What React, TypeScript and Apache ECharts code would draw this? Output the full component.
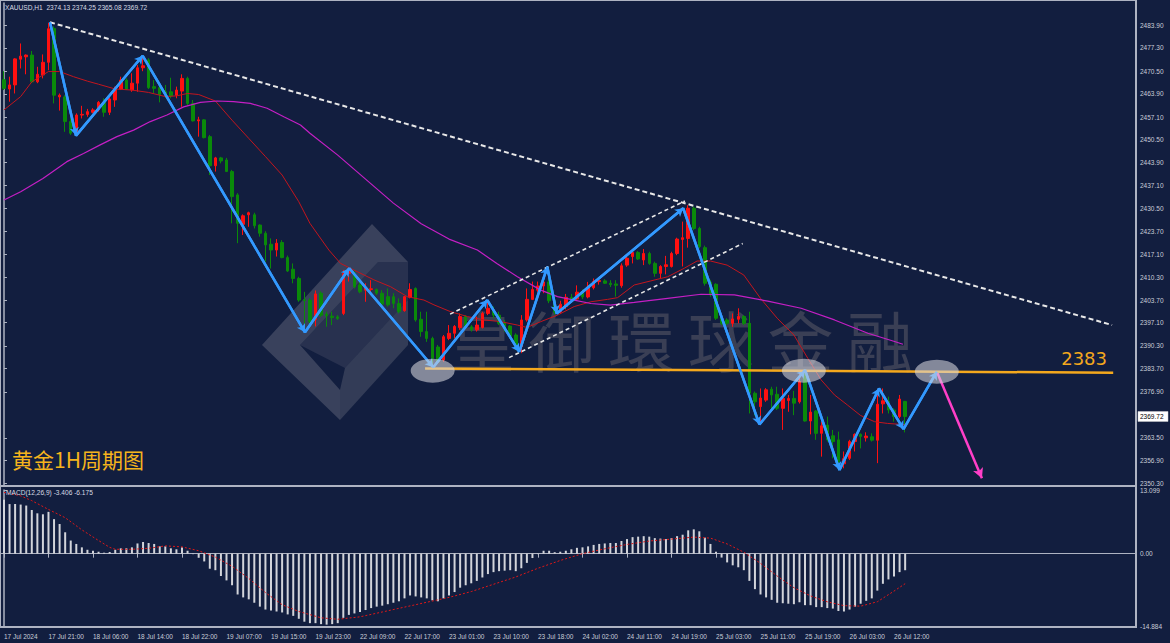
import React, { useEffect, useRef } from 'react';
import * as echarts from 'echarts';

const timeLabels = ['17 Jul 2024','17 Jul 21:00','18 Jul 06:00','18 Jul 14:00','18 Jul 22:00','19 Jul 07:00','19 Jul 15:00','19 Jul 23:00','22 Jul 09:00','22 Jul 17:00','23 Jul 01:00','23 Jul 10:00','23 Jul 18:00','24 Jul 02:00','24 Jul 11:00','24 Jul 19:00','25 Jul 03:00','25 Jul 11:00','25 Jul 19:00','26 Jul 03:00','26 Jul 12:00'];

const priceTicks = [2483.9,2477.3,2470.5,2463.9,2457.1,2450.5,2443.9,2437.1,2430.5,2423.7,2417.1,2410.3,2403.7,2397.1,2390.3,2383.7,2376.9,2363.5,2356.9,2350.3];
const macdTicks = [13.099, 0, -14.884];

const open = [2468.0,2465.3,2466.5,2474.0,2474.7,2475.2,2467.4,2469.4,2473.1,2483.0,2463.0,2463.0,2455.8,2452.4,2457.7,2457.9,2458.5,2459.2,2461.4,2458.5,2462.1,2465.3,2467.9,2465.0,2467.0,2471.5,2473.8,2466.0,2465.7,2464.5,2464.5,2463.5,2464.7,2468.4,2461.1,2456.0,2456.3,2451.4,2442.9,2445.2,2444.6,2441.2,2434.4,2425.8,2428.6,2428.6,2425.6,2423.2,2420.0,2418.3,2420.5,2416.1,2412.7,2410.0,2403.8,2403.7,2398.0,2405.7,2399.6,2399.0,2398.8,2399.8,2411.5,2411.5,2408.1,2406.6,2406.8,2406.8,2405.7,2404.7,2404.7,2402.7,2400.6,2404.5,2407.1,2398.1,2394.5,2392.5,2390.0,2386.2,2392.5,2394.0,2395.7,2398.9,2395.9,2395.0,2395.7,2399.8,2400.8,2399.3,2396.9,2396.1,2393.5,2390.1,2397.9,2403.9,2406.6,2407.8,2409.0,2403.5,2400.2,2401.8,2404.5,2404.0,2406.0,2404.6,2407.3,2409.1,2409.3,2408.6,2408.4,2407.9,2413.9,2416.4,2417.6,2415.4,2417.3,2414.4,2411.5,2413.5,2413.5,2417.3,2421.4,2421.7,2430.5,2424.6,2419.0,2408.9,2408.3,2398.4,2397.9,2396.9,2398.1,2398.9,2396.9,2376.5,2372.6,2374.5,2377.7,2376.2,2372.1,2374.4,2375.0,2374.0,2381.8,2368.4,2371.3,2364.8,2367.2,2364.1,2362.9,2355.9,2357.5,2362.4,2364.5,2363.5,2363.8,2362.8,2373.4,2374.1,2371.6,2369.7,2374.13];
const high = [2470.5,2468.9,2474.3,2478.6,2475.4,2476.4,2471.8,2475.4,2484.6,2483.6,2464.0,2463.5,2456.7,2458.2,2460.4,2459.5,2459.7,2461.8,2462.6,2462.8,2466.0,2468.9,2468.4,2469.9,2472.3,2474.7,2474.3,2467.9,2466.9,2466.5,2468.6,2466.0,2469.6,2468.9,2462.1,2457.2,2456.5,2451.9,2445.5,2445.5,2445.2,2441.7,2434.9,2428.7,2429.5,2429.2,2425.8,2423.8,2421.7,2421.5,2421.2,2416.7,2414.4,2410.5,2406.1,2404.2,2406.5,2406.2,2400.3,2400.3,2399.3,2412.5,2413.0,2412.5,2409.1,2408.6,2409.5,2407.1,2406.6,2407.1,2405.7,2404.2,2404.9,2408.6,2407.4,2400.3,2400.3,2393.0,2390.6,2393.5,2396.4,2396.4,2399.8,2399.3,2396.4,2398.9,2400.3,2403.7,2401.8,2400.3,2397.9,2396.4,2394.0,2399.3,2407.1,2409.1,2409.1,2410.0,2413.4,2404.2,2403.5,2405.5,2405.5,2408.0,2406.8,2409.0,2410.0,2410.0,2409.8,2409.5,2409.5,2414.4,2416.4,2418.0,2418.0,2418.6,2417.8,2414.9,2413.9,2416.6,2417.8,2421.9,2426.6,2431.4,2431.0,2425.1,2419.6,2409.6,2408.6,2398.9,2398.4,2399.8,2401.3,2399.3,2400.3,2377.0,2377.9,2378.0,2378.4,2378.4,2377.9,2376.0,2377.2,2382.3,2382.8,2376.0,2371.6,2368.2,2369.7,2365.8,2365.3,2359.5,2362.9,2364.8,2364.8,2365.1,2364.8,2376.0,2377.9,2375.5,2372.1,2376.0,2374.25];
const low = [2465.0,2461.6,2464.0,2471.3,2469.6,2467.0,2467.0,2468.4,2470.8,2461.1,2459.0,2452.8,2451.9,2451.7,2456.7,2457.2,2458.2,2458.7,2457.2,2457.7,2460.1,2465.0,2465.0,2464.5,2464.5,2470.5,2465.3,2464.0,2461.4,2462.8,2462.6,2462.6,2460.1,2460.6,2455.8,2451.4,2450.9,2440.2,2441.2,2443.6,2441.2,2426.1,2420.3,2422.7,2425.1,2424.6,2422.2,2414.9,2412.9,2416.4,2415.9,2411.9,2408.6,2403.2,2394.3,2396.5,2396.0,2398.8,2395.9,2396.4,2397.9,2399.3,2409.1,2407.1,2405.7,2403.2,2405.6,2405.2,2401.3,2401.8,2401.3,2399.8,2400.3,2404.2,2397.4,2393.0,2391.5,2384.3,2385.0,2385.7,2392.0,2392.5,2395.0,2395.4,2394.5,2394.5,2395.4,2399.3,2398.4,2396.4,2394.5,2392.5,2389.1,2388.2,2397.4,2403.7,2406.1,2405.7,2402.8,2399.5,2399.8,2401.0,2403.0,2403.5,2404.0,2404.2,2406.8,2408.2,2408.4,2407.5,2404.7,2407.3,2413.4,2414.4,2415.4,2413.9,2414.0,2410.5,2410.0,2411.2,2413.2,2416.8,2413.5,2419.0,2424.1,2418.8,2407.9,2404.7,2397.9,2396.4,2396.4,2395.9,2396.9,2396.4,2370.6,2370.0,2367.3,2374.0,2372.1,2371.6,2365.8,2371.1,2370.1,2373.5,2368.2,2364.5,2362.9,2358.0,2362.4,2357.5,2354.6,2354.6,2357.0,2359.5,2360.4,2362.4,2362.4,2356.1,2370.6,2370.6,2368.2,2369.2,2365.08];
const close = [2465.5,2466.5,2474.1,2474.9,2475.2,2467.4,2469.6,2473.1,2482.9,2463.5,2463.5,2455.8,2452.4,2457.7,2457.9,2458.7,2459.2,2461.4,2458.5,2462.4,2465.3,2467.9,2465.3,2467.0,2471.5,2472.1,2465.7,2465.5,2463.7,2464.0,2463.3,2465.0,2468.4,2461.1,2456.0,2456.3,2451.1,2442.9,2445.2,2444.3,2441.2,2433.9,2426.1,2428.3,2429.2,2425.4,2423.2,2419.8,2418.3,2420.3,2416.1,2412.2,2410.0,2403.7,2403.5,2397.4,2405.5,2399.3,2399.1,2398.6,2398.3,2411.5,2412.0,2407.6,2406.1,2407.4,2407.0,2405.7,2402.5,2402.3,2402.7,2400.3,2404.7,2406.8,2397.9,2394.5,2392.5,2386.7,2385.7,2393.0,2394.0,2396.0,2398.9,2395.9,2395.0,2396.4,2399.8,2401.3,2399.3,2396.9,2395.4,2393.2,2389.6,2397.9,2403.9,2406.8,2407.8,2409.0,2403.5,2400.2,2402.5,2404.5,2404.0,2406.0,2404.6,2407.5,2409.1,2409.4,2408.6,2408.2,2408.0,2413.7,2415.9,2417.6,2415.7,2417.3,2414.4,2411.5,2413.5,2414.0,2417.3,2421.5,2421.9,2430.5,2424.6,2419.3,2408.6,2405.2,2398.4,2396.9,2396.9,2398.2,2398.9,2396.9,2376.5,2374.0,2375.1,2377.5,2376.0,2372.1,2375.0,2375.0,2373.6,2379.9,2368.4,2371.0,2364.8,2367.0,2362.9,2362.4,2356.5,2357.4,2362.4,2364.5,2363.9,2364.0,2362.8,2373.3,2374.3,2371.6,2369.7,2374.8,2369.72];

const macd = [11.1,10.2,10.2,10.1,9.9,9.0,8.3,8.1,8.6,7.1,6.1,4.4,2.7,2.0,1.3,0.8,0.6,0.4,0.2,0.35,0.8,1.1,1.1,1.3,2.1,2.4,2.2,2.0,1.5,1.5,1.1,0.9,1.3,0.6,-0.1,-0.85,-1.6,-3.1,-3.4,-4.6,-5.5,-6.5,-8.4,-9.0,-9.4,-10.1,-10.9,-11.5,-11.7,-11.9,-12.1,-12.5,-12.8,-13.4,-14.0,-14.3,-14.3,-14.5,-14.6,-14.5,-14.3,-13.2,-12.6,-12.3,-12.0,-11.6,-11.2,-10.9,-10.7,-10.4,-10.1,-9.8,-9.2,-8.6,-8.8,-9.0,-9.2,-9.6,-9.8,-9.2,-8.6,-7.9,-7.0,-6.5,-6.1,-5.6,-4.9,-4.2,-3.8,-3.6,-3.5,-3.4,-3.6,-3.0,-1.9,-0.9,-0.1,0.6,0.6,0.3,0.4,0.6,0.9,1.2,1.3,1.5,1.8,2.0,2.1,2.2,2.2,2.6,3.0,3.4,3.5,3.6,3.5,3.2,3.1,3.0,3.2,3.6,3.9,4.8,5.0,4.6,3.3,2.0,0.4,-0.8,-1.8,-2.4,-2.8,-3.4,-5.6,-7.3,-8.4,-9.0,-9.5,-10.1,-10.2,-10.3,-10.4,-10.0,-10.6,-10.6,-11.0,-11.0,-11.2,-11.3,-11.8,-11.9,-11.5,-10.9,-10.3,-9.7,-9.2,-7.6,-6.2,-5.3,-4.7,-3.8,-3.406];

const signal = [[0,12.6],[3,11.9],[5,10.9],[8,9.1],[11,7.4],[14,4.9],[17,2.7],[19,1.3],[20,0.9],[23,0.9],[26,1.1],[29,1.6],[32,1.4],[35,0.6],[38,-0.7],[41,-2.6],[44,-5.1],[47,-8.0],[50,-10.5],[53,-11.9],[57,-13.2],[60,-13.5],[64,-13.0],[68,-12.0],[72,-11.0],[76,-10.0],[80,-9.0],[84,-7.8],[88,-6.3],[92,-4.8],[96,-3.0],[100,-1.4],[104,0.0],[108,1.0],[112,1.9],[116,2.6],[120,3.0],[124,3.4],[127,3.2],[130,2.0],[133,0.3],[136,-2.0],[139,-4.6],[142,-7.0],[145,-8.7],[148,-9.9],[151,-10.7],[154,-10.8],[157,-9.9],[160,-7.7],[162,-6.175]];

const maRed = [[0,2459.2],[3,2463.1],[5,2467.4],[8,2470.4],[10,2470.4],[12.5,2468.9],[15,2467.6],[17,2466.7],[20,2465.3],[23,2465.0],[26,2464.3],[29,2463.1],[31,2463.3],[33,2464.0],[35,2463.7],[38,2461.8],[41,2456.2],[44,2450.9],[47,2445.6],[50,2440.2],[53,2432.4],[55,2426.1],[58.4,2418.3],[60.5,2414.4],[63.5,2412.0],[66.5,2409.6],[69.5,2407.6],[72.5,2404.7],[75.5,2403.7],[77.3,2402.3],[80.3,2400.3],[83.3,2398.9],[86.3,2397.9],[89.3,2397.4],[92.3,2396.4],[94,2395.7],[96.5,2397.4],[99.5,2399.3],[102.5,2401.8],[105.5,2403.2],[108.5,2403.9],[110.3,2404.4],[113.3,2408.1],[116.3,2409.3],[119.3,2410.5],[122.3,2413.0],[124.6,2415.1],[127,2415.1],[130,2413.9],[133,2411.0],[136,2404.2],[139,2398.4],[142,2393.5],[144.5,2386.7],[146.9,2380.4],[149.3,2376.0],[151.6,2373.1],[154,2370.0],[156.5,2368.2],[158.8,2367.7],[161.3,2367.4],[162,2367.3]];

const maMagenta = [[0,2432.9],[3,2435.3],[7,2439.2],[11.3,2444.1],[14.3,2446.5],[17.3,2449.0],[20.3,2451.4],[23.3,2453.3],[26.3,2455.8],[29.3,2457.7],[32.3,2460.1],[35.3,2461.4],[38.3,2461.8],[41.3,2461.6],[44.3,2461.1],[47.3,2459.7],[50.3,2457.2],[53.3,2454.8],[55,2452.4],[60,2446.0],[65,2439.0],[70,2432.0],[75,2426.0],[80,2421.5],[85.1,2418.3],[88.6,2414.4],[92.3,2410.5],[96.5,2406.6],[99.5,2404.7],[102.5,2403.7],[105.5,2402.7],[109,2402.2],[113.3,2403.0],[119.3,2404.2],[125.3,2405.4],[131.3,2405.2],[137.3,2403.4],[143.3,2401.3],[149.3,2397.9],[155.3,2394.0],[160.1,2391.6],[161.6,2390.8]];

const zigzag = [[8.27,2484.8],[12.95,2451.7],[24.94,2475.0],[54.11,2394.3],[62.07,2413.0],[77.17,2384.1],[86.88,2403.7],[92.63,2388.6],[97.67,2413.4],[99.36,2399.8],[122.1,2430.5],[135.8,2367.4],[144.0,2383.3],[150.2,2354.1],[157.3,2377.9],[161.7,2366.0],[167.7,2382.8]];
const forecastArrow = [[167.7,2382.8],[175.8,2351.7]];
const trendLine = [[8.27,2484.8],[199.2,2396.4]];
const channelUpper = [[80.2,2399.6],[122.4,2432.6]];
const channelLower = [[90.8,2386.9],[132.8,2420.2]];
const levelLine = [[75.7,2383.7],[199.4,2382.5]];
const levelValue = '2383';
const ellipses = [[77.07,2383.1],[143.8,2383.1],[167.7,2382.8]];

const symbolName = 'XAUUSD,H1';
const macdName = 'MACD(12,26,9)';
const periodTitle = '黄金1H周期图';
const watermarkChars = ['皇', '御', '環', '球', '金', '融'];

const TOTAL_SLOTS = 204;
const LABEL_STEP = 8;

export default function App() {
  const ref = useRef<HTMLDivElement>(null);
  useEffect(() => {
    const chart = echarts.init(ref.current!, null, { renderer: 'svg' });
    const cats = Array.from({ length: TOTAL_SLOTS }, (_, i) => String(i));
    const showLabel = (i: number) => i % LABEL_STEP === 0 && i / LABEL_STEP < timeLabels.length;
    const candles = open.map((o, i) => [o, close[i], low[i], high[i]]);
    const n = close.length;
    const last = close[n - 1];
    const headerText = `${symbolName}  ${open[n - 1].toFixed(2)} ${high[n - 1].toFixed(2)} ${low[n - 1].toFixed(2)} ${last.toFixed(2)}`;
    const sig = signal[signal.length - 1][1];
    const macdText = `${macdName} ${macd[n - 1].toFixed(3)} ${sig.toFixed(3)}`;
    const labelColor = '#c9cdd8';
    const font = 'Liberation Sans';
    const frameColor = '#aeb3c2';
    const zigSegments = zigzag.slice(1).map((p, k) => [{ coord: zigzag[k] }, { coord: p }]);

    const wm = watermarkChars.map((ch, k) => ({
      id: 'wm' + k,
      type: 'text',
      x: 482 + k * 79.6,
      y: 338,
      z: 0,
      silent: true,
      style: { text: ch, fontSize: 66, fontFamily: 'Noto Sans CJK TC', fill: '#3a3f55', align: 'center', verticalAlign: 'middle' },
    }));

    const graphics: any[] = [
      ...wm,
      {
        id: 'logo', type: 'group', z: 0, silent: true,
        children: [
          { type: 'polygon', shape: { points: [[262, 345], [372, 224], [408, 262], [378, 262], [300, 345], [340, 390], [340, 420]] }, style: { fill: 'rgba(150,150,160,0.30)' } },
          { type: 'polygon', shape: { points: [[300, 345], [378, 262], [408, 262], [408, 300], [345, 368]] }, style: { fill: 'rgba(120,120,135,0.22)' } },
          { type: 'polygon', shape: { points: [[345, 368], [408, 300], [408, 345], [340, 420], [340, 390]] }, style: { fill: 'rgba(150,150,160,0.25)' } },
        ],
      },
      { id: 'hdr', type: 'text', x: 5, y: 4, z: 10, style: { text: headerText, fontSize: 6.6, fontFamily: font, fill: '#d8dbe4' } },
      { id: 'macdHdr', type: 'text', x: 6, y: 489, z: 10, style: { text: macdText, fontSize: 6.6, fontFamily: font, fill: '#d8dbe4' } },
      { id: 'title', type: 'text', x: 12, y: 448, z: 10, style: { text: periodTitle, fontSize: 21, fontFamily: 'Noto Sans CJK SC', fill: '#f6b41c' } },
      { id: 'lvl', type: 'text', x: 1107, y: 367, z: 10, style: { text: levelValue, fontSize: 18, fontFamily: 'DejaVu Sans', fill: '#f4a81d', align: 'right', verticalAlign: 'bottom' } },
      { id: 'frame', type: 'rect', z: 10, shape: { x: 0, y: 0, width: 1136, height: 627 }, style: { fill: 'none', stroke: frameColor, lineWidth: 2 } },
      { id: 'sep', type: 'line', z: 10, shape: { x1: 0, y1: 486, x2: 1136, y2: 486 }, style: { stroke: frameColor, lineWidth: 2 } },
    ];

    const option: any = {
      animation: false,
      backgroundColor: '#121e3f',
      grid: [
        { left: 1.2, right: 34, top: 3, height: 482 },
        { left: 1.2, right: 34, top: 490, height: 136 },
      ],
      xAxis: [
        { type: 'category', gridIndex: 0, data: cats, boundaryGap: true, axisLine: { show: false }, axisTick: { show: false }, axisLabel: { show: false }, splitLine: { show: false } },
        { type: 'value', gridIndex: 0, min: -0.5, max: TOTAL_SLOTS - 0.5, show: false },
        {
          type: 'category', gridIndex: 1, data: cats, boundaryGap: true,
          axisLine: { show: true, lineStyle: { color: frameColor, width: 1 } },
          axisTick: { show: true, alignWithLabel: true, interval: (i: number) => showLabel(i), length: 4, lineStyle: { color: frameColor } },
          axisLabel: { show: true, interval: (i: number) => showLabel(i), formatter: (_v: string, i: number) => timeLabels[i / LABEL_STEP] ?? '', align: 'left', margin: 7, color: labelColor, fontSize: 6.5, fontFamily: font },
          splitLine: { show: false },
        },
        { type: 'value', gridIndex: 1, min: -0.5, max: TOTAL_SLOTS - 0.5, show: false },
      ],
      yAxis: [
        {
          type: 'value', gridIndex: 0, position: 'right', min: 2349.72, max: 2490.41, scale: true,
          axisLine: { show: true, lineStyle: { color: frameColor, width: 1.5 } },
          axisTick: { show: true, customValues: priceTicks, length: 3, lineStyle: { color: frameColor } },
          axisLabel: { show: true, customValues: priceTicks, formatter: (v: number) => v.toFixed(2), color: labelColor, fontSize: 6.5, fontFamily: font, margin: 4 },
          splitLine: { show: false },
        },
        {
          type: 'value', gridIndex: 1, position: 'right', min: -14.884, max: 13.099,
          axisLine: { show: true, lineStyle: { color: frameColor, width: 1.5 } },
          axisTick: { show: true, customValues: macdTicks, length: 3, lineStyle: { color: frameColor } },
          axisLabel: { show: true, customValues: macdTicks, formatter: (v: number) => (v === 0 ? '0.00' : v.toFixed(3)), color: labelColor, fontSize: 6.5, fontFamily: font, margin: 4 },
          splitLine: { show: false },
        },
      ],
      graphic: graphics,
      series: [
        {
          type: 'candlestick', xAxisIndex: 0, yAxisIndex: 0, data: candles, barWidth: 3, z: 3,
          itemStyle: { color: '#ff1010', color0: '#0a8a0a', borderColor: '#ff1010', borderColor0: '#0a8a0a', borderWidth: 1 },
        },
        { type: 'line', xAxisIndex: 1, yAxisIndex: 0, data: maRed, showSymbol: false, z: 4, lineStyle: { color: '#c3161e', width: 1 } },
        { type: 'line', xAxisIndex: 1, yAxisIndex: 0, data: maMagenta, showSymbol: false, z: 4, lineStyle: { color: '#c41fc4', width: 1.2 } },
        { type: 'line', xAxisIndex: 1, yAxisIndex: 0, data: trendLine, showSymbol: false, z: 5, lineStyle: { color: '#e8e8e8', width: 2, type: [5, 3] } },
        { type: 'line', xAxisIndex: 1, yAxisIndex: 0, data: channelUpper, showSymbol: false, z: 5, lineStyle: { color: '#e8e8e8', width: 1.6, type: [4, 3] } },
        { type: 'line', xAxisIndex: 1, yAxisIndex: 0, data: channelLower, showSymbol: false, z: 5, lineStyle: { color: '#e8e8e8', width: 1.6, type: [4, 3] } },
        { type: 'line', xAxisIndex: 1, yAxisIndex: 0, data: levelLine, showSymbol: false, z: 5, lineStyle: { color: '#f4a81d', width: 2.5 } },
        { type: 'line', xAxisIndex: 1, yAxisIndex: 0, data: zigzag, showSymbol: false, z: 6, lineStyle: { color: '#3399ff', width: 2.5 } },
        {
          type: 'line', xAxisIndex: 1, yAxisIndex: 0, data: [], z: 6,
          markLine: {
            silent: true, symbol: ['none', 'arrow'], symbolSize: [7, 8],
            lineStyle: { color: '#3399ff', width: 2.5, type: 'solid' },
            label: { show: false },
            data: zigSegments,
          },
        },
        {
          type: 'line', xAxisIndex: 1, yAxisIndex: 0, data: [], z: 6,
          markLine: {
            silent: true, symbol: ['none', 'arrow'], symbolSize: [8, 10],
            lineStyle: { color: '#ff3fc8', width: 2.5, type: 'solid' },
            label: { show: false },
            data: [[{ coord: forecastArrow[0] }, { coord: forecastArrow[1] }]],
          },
        },
        { type: 'scatter', xAxisIndex: 1, yAxisIndex: 0, data: ellipses, symbol: 'circle', symbolSize: [44, 24], z: 7, itemStyle: { color: 'rgba(215,215,222,0.72)' } },
        { type: 'bar', xAxisIndex: 2, yAxisIndex: 1, data: macd, barWidth: 2, z: 3, itemStyle: { color: '#d2d4da' } },
        { type: 'line', xAxisIndex: 3, yAxisIndex: 1, data: signal, showSymbol: false, z: 4, lineStyle: { color: '#e01818', width: 1, type: [2, 2] } },
      ],
    };
    chart.setOption(option);

    const py = chart.convertToPixel({ yAxisIndex: 0 }, last) as number;
    const axisX = chart.convertToPixel({ xAxisIndex: 1 }, TOTAL_SLOTS - 0.5) as number;
    if (isFinite(py) && isFinite(axisX)) {
      chart.setOption({
        graphic: [
          ...graphics,
          {
            id: 'priceTag', type: 'group', z: 20,
            children: [
              { type: 'rect', shape: { x: axisX + 2, y: py - 5, width: 30, height: 10 }, style: { fill: '#ffffff', stroke: '#d0d0d0', lineWidth: 0.5 } },
              { type: 'text', x: axisX + 4, y: py, style: { text: last.toFixed(2), fontSize: 6.5, fontFamily: font, fill: '#000000', verticalAlign: 'middle' } },
            ],
          },
        ],
      }, { replaceMerge: ['graphic'] });
    }
    return () => chart.dispose();
  }, []);
  return <div ref={ref} style={{ position: 'fixed', left: 0, top: 0, width: 1170, height: 643 }} />;
}
